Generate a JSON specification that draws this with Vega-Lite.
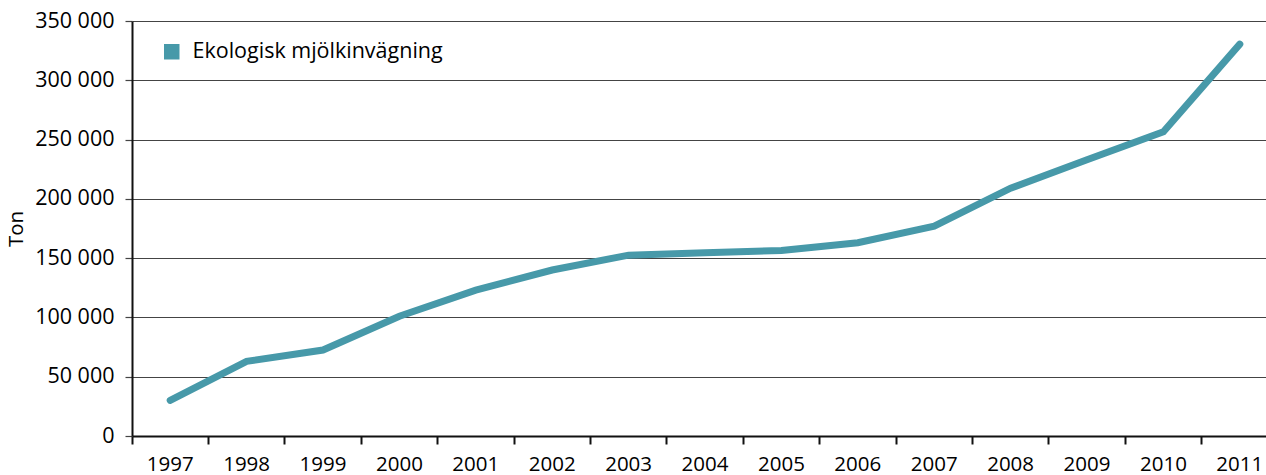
{
  "$schema": "https://vega.github.io/schema/vega-lite/v6.json",
  "width": 1146,
  "height": 415,
  "autosize": {"type": "none"},
  "padding": {"left": 132, "top": 21, "right": 0, "bottom": 39},
  "background": "white",
  "config": {
    "font": "Open Sans",
    "view": {"stroke": null},
    "locale": {
      "number": {"decimal": ",", "thousands": " ", "grouping": [3], "currency": ["", " kr"]}
    }
  },
  "data": {
    "values": [
      {"ar": "1997", "ton": 30000, "serie": "Ekologisk mjölkinvägning"},
      {"ar": "1998", "ton": 63000, "serie": "Ekologisk mjölkinvägning"},
      {"ar": "1999", "ton": 72500, "serie": "Ekologisk mjölkinvägning"},
      {"ar": "2000", "ton": 101000, "serie": "Ekologisk mjölkinvägning"},
      {"ar": "2001", "ton": 123000, "serie": "Ekologisk mjölkinvägning"},
      {"ar": "2002", "ton": 140000, "serie": "Ekologisk mjölkinvägning"},
      {"ar": "2003", "ton": 152500, "serie": "Ekologisk mjölkinvägning"},
      {"ar": "2004", "ton": 154500, "serie": "Ekologisk mjölkinvägning"},
      {"ar": "2005", "ton": 156500, "serie": "Ekologisk mjölkinvägning"},
      {"ar": "2006", "ton": 163000, "serie": "Ekologisk mjölkinvägning"},
      {"ar": "2007", "ton": 177000, "serie": "Ekologisk mjölkinvägning"},
      {"ar": "2008", "ton": 209000, "serie": "Ekologisk mjölkinvägning"},
      {"ar": "2009", "ton": 233000, "serie": "Ekologisk mjölkinvägning"},
      {"ar": "2010", "ton": 256500, "serie": "Ekologisk mjölkinvägning"},
      {"ar": "2011", "ton": 330500, "serie": "Ekologisk mjölkinvägning"}
    ]
  },
  "mark": {"type": "line", "strokeWidth": 7, "strokeCap": "round", "strokeJoin": "miter"},
  "encoding": {
    "x": {
      "field": "ar",
      "type": "ordinal",
      "scale": {"type": "band", "paddingInner": 0, "paddingOuter": 0},
      "axis": {
        "title": null,
        "labelAngle": 0,
        "labelFontSize": 20.5,
        "labelColor": "#000",
        "labelPadding": 10,
        "bandPosition": 0,
        "tickSize": 8,
        "tickWidth": 2,
        "tickColor": "#111",
        "domainColor": "#111",
        "domainWidth": 2,
        "grid": false
      }
    },
    "y": {
      "field": "ton",
      "type": "quantitative",
      "scale": {"domain": [0, 350000], "nice": false},
      "axis": {
        "title": "Ton",
        "titleFontSize": 20.5,
        "titleFontWeight": "normal",
        "titleColor": "#000",
        "titlePadding": 8,
        "values": [0, 50000, 100000, 150000, 200000, 250000, 300000, 350000],
        "format": ",d",
        "labelFontSize": 21.5,
        "labelColor": "#000",
        "labelPadding": 11,
        "tickSize": 7,
        "tickColor": "#444",
        "tickWidth": 1.2,
        "domainColor": "#111",
        "domainWidth": 2,
        "grid": true,
        "gridColor": "#444",
        "gridWidth": 1.2
      }
    },
    "color": {
      "field": "serie",
      "type": "nominal",
      "scale": {"range": ["#4799a9"]},
      "legend": {
        "title": null,
        "orient": "none",
        "legendX": 29,
        "legendY": 20,
        "symbolType": "square",
        "symbolSize": 240,
        "symbolFillColor": "#4799a9",
        "symbolStrokeWidth": 0,
        "labelFontSize": 21.5,
        "labelLimit": 500,
        "labelColor": "#000",
        "labelOffset": 10,
        "padding": 0
      }
    }
  }
}
